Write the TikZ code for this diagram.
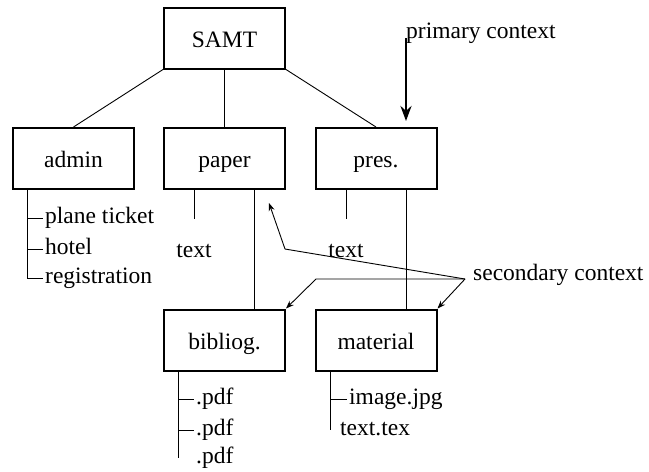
\documentclass[tikz,border=0pt]{standalone}
\usepackage{fontspec}
\setmainfont{Liberation Serif}
\usepackage{tikz}
\usetikzlibrary{arrows.meta}

\begin{document}
\begin{tikzpicture}[x=1pt,y=-1pt,>={Stealth[length=8pt,width=6pt]},
			font=\fontsize{23.5}{28}\selectfont,
			dir node/.style={rectangle,draw,line width=2pt,minimum width=121pt,
				minimum height=61pt,inner sep=0pt,text height=18pt,text depth=0pt},
			leaf/.style={anchor=west,inner sep=2pt,text height=11pt,text depth=0pt},
			thin line/.style={line width=0.9pt}]
			\useasboundingbox (0,0) rectangle (649,472);
			
			\node[dir node] (samt) at (224.5,38) {SAMT};
			\node[dir node] (admin) at (73.5,158.5) {admin};
			\node[dir node] (paper) at (224.5,158.5) {paper};
			\node[dir node] (pres) at (376,158.5) {pres.};
			\node[dir node] (bibliog) at (224.5,340) {bibliog.};
			\node[dir node] (material) at (376,340) {material};
			
			\path[thin line,draw]
			(samt.south west) edge (admin.north)
			(samt) edge (paper)
			(samt.south east) edge (pres.north);
			
			\node[leaf] (ticket) at (43,218) {plane ticket};
			\node[leaf] (hotel) at (43,249) {hotel};
			\node[leaf] (regist) at (43,278) {registration};
			\coordinate (adm) at ([xshift=15pt]admin.south west);
			\draw[thin line] (adm) |- (ticket.west) (adm) |- (hotel.west) (adm) |- (regist.west);
			
			\coordinate (pstub) at (194.5,219);
			\coordinate (rstub) at (346,219);
			\draw[thin line] (paper.south -| pstub) -- (pstub);
			\draw[thin line] (pres.south -| rstub) -- (rstub);
			\node (ptext) at (194,251) {text};
			\node (rtext) at (346,251) {text};
			\draw[thin line] ([xshift=30pt]paper.south) -- ([xshift=30pt]bibliog.north);
			\draw[thin line] ([xshift=30pt]pres.south) -- ([xshift=30pt]material.north);
			
			\node[anchor=base west,inner sep=0pt] (primary) at (406,38) {primary context};
			\draw[line width=2.5pt,-{Stealth[length=15pt,width=11pt]},shorten >=6pt]
			(primary.base west) -- (primary.base west |- pres.north);
			
			\node[anchor=base west,inner sep=0pt] (secondary) at (473,280) {secondary context};
			\coordinate (sc) at (465,279);
			\coordinate (pbend) at (285,249);
			\coordinate (ptip) at (269,203);
			\coordinate (bbend) at (316,279);
			\draw[thin line,->] (sc) -- (pbend) -- (ptip);
			\draw[thin line,->] (sc) -- (bbend) -- (bibliog.north east);
			\draw[thin line,->] (sc) -- (material.north east);
			
			\node[leaf] (pdfa) at (194,399) {.pdf};
			\node[leaf] (pdfb) at (194,430) {.pdf};
			\node[leaf] (pdfc) at (194,458) {.pdf};
			\coordinate (bib) at ([xshift=15.5pt]bibliog.south west);
			\draw[thin line] (bib) -- (bib |- pdfc.west);
			\draw[thin line] (bib |- pdfa.west) -- (pdfa.west) (bib |- pdfb.west) -- (pdfb.west);
			
			\node[leaf] (image) at (347,399) {image.jpg};
			\node[leaf] (textx) at (338,430) {text.tex};
			\coordinate (mat) at ([xshift=15.5pt]material.south west);
			\draw[thin line] (mat) |- (image.west);
			\draw[thin line] (mat) -- (mat |- textx.west);
		\end{tikzpicture}
\end{document}
